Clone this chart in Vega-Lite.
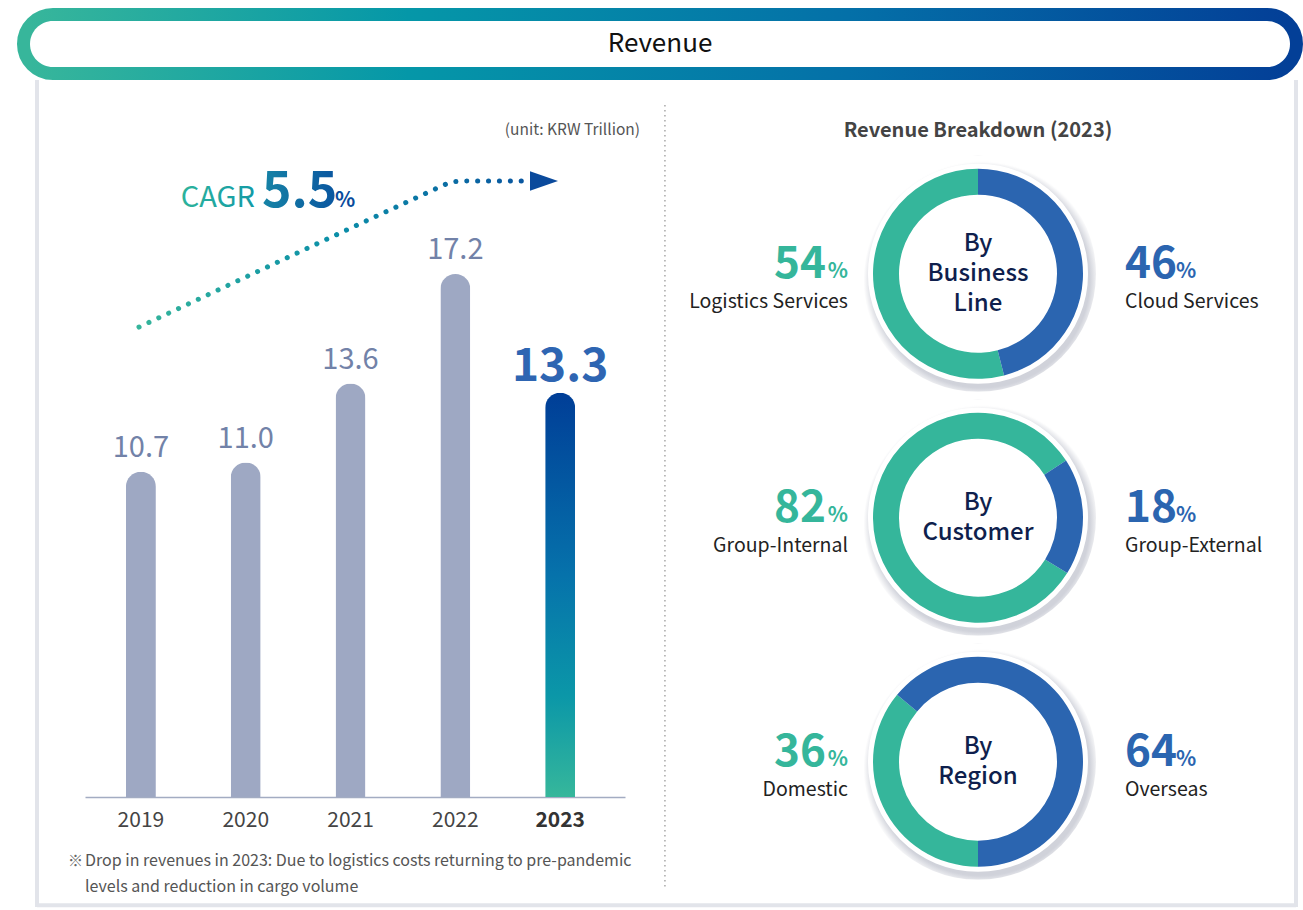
{
  "$schema": "https://vega.github.io/schema/vega-lite/v6.json",
  "padding": {"left": 17, "top": 8, "right": 0, "bottom": 0},
  "background": "white",
  "config": {
    "view": {"stroke": null},
    "font": "Noto Sans CJK KR",
    "text": {"font": "Noto Sans CJK KR"}
  },
  "datasets": {
    "revenue": [
      {"year": "2019", "revenue": 10.7},
      {"year": "2020", "revenue": 11.0},
      {"year": "2021", "revenue": 13.6},
      {"year": "2022", "revenue": 17.2},
      {"year": "2023", "revenue": 13.3}
    ],
    "breakdown": [
      {"breakdown": "By Business Line", "segment": "Logistics Services", "share": 54},
      {"breakdown": "By Business Line", "segment": "Cloud Services", "share": 46},
      {"breakdown": "By Customer", "segment": "Group-Internal", "share": 82},
      {"breakdown": "By Customer", "segment": "Group-External", "share": 18},
      {"breakdown": "By Region", "segment": "Domestic", "share": 36},
      {"breakdown": "By Region", "segment": "Overseas", "share": 64}
    ],
    "trend": [
      {"t": 2018.982, "level": 15.457},
      {"t": 2021.663, "level": 19.767},
      {"t": 2021.797, "level": 19.98},
      {"t": 2021.902, "level": 20.145},
      {"t": 2022.007, "level": 20.244},
      {"t": 2022.14, "level": 20.26},
      {"t": 2022.713, "level": 20.26}
    ],
    "arrowhead": [{"t": 2022.846, "level": 20.26}],
    "notes": [
      {
        "unit": "(unit: KRW Trillion)",
        "cagr_label": "CAGR",
        "cagr": "5.5",
        "pct": "%",
        "mark": "※",
        "footnote": "Drop in revenues in 2023: Due to logistics costs returning to pre-pandemic\nlevels and reduction in cargo volume"
      }
    ]
  },
  "bounds": "flush",
  "spacing": 0,
  "vconcat": [
    {
      "width": 1260,
      "height": 46,
      "data": {"values": [{"title": "Revenue"}]},
      "layer": [
        {
          "mark": {
            "type": "rect",
            "cornerRadius": 23,
            "fill": "white",
            "strokeWidth": 26,
            "stroke": {
              "gradient": "linear", "x1": 0, "y1": 0, "x2": 1, "y2": 0,
              "stops": [
                {"offset": 0, "color": "#37b69b"},
                {"offset": 0.3, "color": "#0597a8"},
                {"offset": 0.65, "color": "#0470a8"},
                {"offset": 1, "color": "#033f97"}
              ]
            }
          },
          "encoding": {}
        },
        {"mark": {"type": "rect", "cornerRadius": 23, "fill": "white"}, "encoding": {}},
        {
          "mark": {"type": "text", "fontSize": 26, "color": "#111"},
          "encoding": {"text": {"field": "title"}}
        }
      ]
    },
    {
      "spacing": 0,
      "bounds": "flush",
      "hconcat": [
        {
          "width": 635,
          "height": 841,
          "resolve": {"scale": {"x": "independent"}},
          "layer": [
            {
              "data": {"name": "revenue"},
              "encoding": {
                "x": {
                  "field": "year", "type": "ordinal",
                  "scale": {"type": "band", "range": [55, 595], "paddingInner": 0, "paddingOuter": 0.076, "align": 0.22},
                  "axis": {
                    "title": null, "orient": "bottom", "offset": -111, "ticks": false,
                    "domainColor": "#a3acc2", "domainWidth": 1.5, "labelAngle": 0,
                    "labelFontSize": 21, "labelPadding": 12,
                    "labelColor": {"condition": {"test": "datum.value === '2023'", "value": "#333"}, "value": "#444"},
                    "labelFontWeight": {"condition": {"test": "datum.value === '2023'", "value": "bold"}, "value": "normal"},
                    "grid": false
                  }
                },
                "y": {
                  "field": "revenue", "type": "quantitative",
                  "scale": {"domain": [-3.65, 24.01], "nice": false, "zero": false},
                  "axis": null
                }
              },
              "layer": [
                {
                  "transform": [{"filter": "datum.year != '2023'"}],
                  "mark": {"type": "bar", "size": 30, "cornerRadiusTopLeft": 15, "cornerRadiusTopRight": 15, "color": "#9ea8c3"}
                },
                {
                  "transform": [{"filter": "datum.year == '2023'"}],
                  "mark": {
                    "type": "bar", "size": 30, "cornerRadiusTopLeft": 15, "cornerRadiusTopRight": 15,
                    "color": {
                      "gradient": "linear", "x1": 0, "y1": 0, "x2": 0, "y2": 1,
                      "stops": [
                        {"offset": 0, "color": "#003e97"},
                        {"offset": 0.45, "color": "#0672ab"},
                        {"offset": 0.75, "color": "#0b97a8"},
                        {"offset": 1, "color": "#36b79b"}
                      ]
                    }
                  }
                },
                {
                  "transform": [{"filter": "datum.year != '2023'"}],
                  "mark": {"type": "text", "fontSize": 29, "color": "#7282a8", "baseline": "alphabetic", "dy": -15},
                  "encoding": {"text": {"field": "revenue", "type": "quantitative", "format": ".1f"}}
                },
                {
                  "transform": [{"filter": "datum.year == '2023'"}],
                  "mark": {"type": "text", "fontSize": 46, "fontWeight": "bold", "color": "#2e65b2", "baseline": "alphabetic", "dy": -12},
                  "encoding": {"text": {"field": "revenue", "type": "quantitative", "format": ".1f"}}
                }
              ]
            },
            {
              "layer": [
                {
                  "data": {"name": "notes"},
                  "mark": {"type": "rule", "color": "#e2e4ea", "strokeWidth": 4},
                  "encoding": {
                    "x": {"datum": 2018.009, "type": "quantitative", "scale": {"domain": [2017.942, 2024.0006], "nice": false, "zero": false}, "axis": null},
                    "y": {"datum": 23.58, "type": "quantitative", "scale": {"domain": [-3.65, 24.01], "nice": false, "zero": false}, "axis": null},
                    "y2": {"datum": -3.62}
                  }
                },
                {
                  "data": {"name": "notes"},
                  "mark": {"type": "rule", "color": "#e2e4ea", "strokeWidth": 4},
                  "encoding": {
                    "x": {"datum": 2030.021, "type": "quantitative", "axis": null},
                    "y": {"datum": 23.58, "type": "quantitative", "axis": null},
                    "y2": {"datum": -3.62}
                  }
                },
                {
                  "data": {"name": "notes"},
                  "mark": {"type": "rule", "color": "#e2e4ea", "strokeWidth": 4},
                  "encoding": {
                    "x": {"datum": 2018.009, "type": "quantitative", "axis": null},
                    "x2": {"datum": 2030.021},
                    "y": {"datum": -3.556, "type": "quantitative", "axis": null}
                  }
                },
                {
                  "data": {"name": "notes"},
                  "mark": {"type": "rule", "color": "#a8a8a8", "strokeWidth": 1.5, "strokeDash": [1.5, 3.5]},
                  "encoding": {
                    "x": {"datum": 2024.0, "type": "quantitative", "axis": null},
                    "y": {"datum": 22.76, "type": "quantitative", "axis": null},
                    "y2": {"datum": -2.964}
                  }
                },
                {
                  "data": {"name": "trend"},
                  "mark": {
                    "type": "line", "interpolate": "monotone", "strokeDash": [0.1, 10.8], "strokeCap": "round", "strokeWidth": 5,
                    "stroke": {
                      "gradient": "linear", "x1": 0, "y1": 0, "x2": 1, "y2": 0,
                      "stops": [
                        {"offset": 0, "color": "#35b59b"},
                        {"offset": 0.5, "color": "#0b8fa8"},
                        {"offset": 1, "color": "#0a55a0"}
                      ]
                    }
                  },
                  "encoding": {
                    "x": {"field": "t", "type": "quantitative", "axis": null},
                    "y": {"field": "level", "type": "quantitative", "axis": null}
                  }
                },
                {
                  "data": {"name": "arrowhead"},
                  "mark": {"type": "point", "shape": "M-1,-0.7L1,0L-1,0.7Z", "size": 784, "filled": true, "color": "#0a4a9c", "opacity": 1},
                  "encoding": {
                    "x": {"field": "t", "type": "quantitative", "axis": null},
                    "y": {"field": "level", "type": "quantitative", "axis": null}
                  }
                },
                {
                  "data": {"name": "notes"},
                  "mark": {"type": "text", "align": "right", "baseline": "alphabetic", "fontSize": 15.5, "color": "#555"},
                  "encoding": {
                    "x": {"datum": 2023.762, "type": "quantitative", "axis": null},
                    "y": {"datum": 21.773, "type": "quantitative", "axis": null},
                    "text": {"field": "unit"}
                  }
                },
                {
                  "data": {"name": "notes"},
                  "mark": {
                    "type": "text", "align": "right", "baseline": "alphabetic", "fontSize": 29,
                    "fill": {
                      "gradient": "linear", "x1": 0, "y1": 0, "x2": 1, "y2": 0,
                      "stops": [{"offset": 0, "color": "#2db39b"}, {"offset": 1, "color": "#139aa6"}]
                    }
                  },
                  "encoding": {
                    "x": {"datum": 2020.089, "type": "quantitative", "axis": null},
                    "y": {"datum": 19.42, "type": "quantitative", "axis": null},
                    "text": {"field": "cagr_label"}
                  }
                },
                {
                  "data": {"name": "notes"},
                  "mark": {
                    "type": "text", "align": "left", "baseline": "alphabetic", "fontSize": 50, "fontWeight": "bold",
                    "fill": {
                      "gradient": "linear", "x1": 0, "y1": 0, "x2": 1, "y2": 0,
                      "stops": [{"offset": 0, "color": "#1684a6"}, {"offset": 1, "color": "#0a55a0"}]
                    }
                  },
                  "encoding": {
                    "x": {"datum": 2020.156, "type": "quantitative", "axis": null},
                    "y": {"datum": 19.42, "type": "quantitative", "axis": null},
                    "text": {"field": "cagr"}
                  }
                },
                {
                  "data": {"name": "notes"},
                  "mark": {"type": "text", "align": "left", "baseline": "alphabetic", "fontSize": 21, "fontWeight": "bold", "color": "#0a4c9c"},
                  "encoding": {
                    "x": {"datum": 2020.852, "type": "quantitative", "axis": null},
                    "y": {"datum": 19.42, "type": "quantitative", "axis": null},
                    "text": {"field": "pct"}
                  }
                },
                {
                  "data": {"name": "notes"},
                  "mark": {"type": "text", "align": "left", "baseline": "alphabetic", "fontSize": 15, "color": "#666"},
                  "encoding": {
                    "x": {"datum": 2018.305, "type": "quantitative", "axis": null},
                    "y": {"datum": -2.273, "type": "quantitative", "axis": null},
                    "text": {"field": "mark"}
                  }
                },
                {
                  "data": {"name": "notes"},
                  "mark": {"type": "text", "align": "left", "baseline": "alphabetic", "fontSize": 16, "color": "#555", "lineBreak": "\n", "lineHeight": 26},
                  "encoding": {
                    "x": {"datum": 2018.467, "type": "quantitative", "axis": null},
                    "y": {"datum": -2.273, "type": "quantitative", "axis": null},
                    "text": {"field": "footnote"}
                  }
                }
              ]
            }
          ]
        },
        {
          "spacing": 0,
          "bounds": "flush",
          "vconcat": [
            {
              "width": 626,
              "height": 84.25,
              "data": {"values": [{"label": "Revenue Breakdown (2023)"}]},
              "mark": {"type": "text", "fontSize": 20, "fontWeight": "bold", "color": "#444", "dy": 22},
              "encoding": {"text": {"field": "label"}}
            },
            {
              "width": 626,
              "height": 243.5,
              "data": {"name": "breakdown"},
              "transform": [
                {"filter": "datum.breakdown == 'By Business Line'"},
                {"window": [{"op": "row_number", "as": "idx"}]}
              ],
              "layer": [
                {
                  "transform": [{"filter": "datum.idx == 1"}],
                  "mark": {
                    "type": "arc", "outerRadius": 118,
                    "fill": {"gradient": "radial", "x1": 0.5, "y1": 0.5, "r1": 0, "x2": 0.515, "y2": 0.525, "r2": 0.5,
                      "stops": [{"offset": 0, "color": "#d0d2da"}, {"offset": 0.92, "color": "#d0d2da"}, {"offset": 1, "color": "#ffffff"}]}
                  },
                  "encoding": {}
                },
                {
                  "transform": [{"filter": "datum.idx == 1"}],
                  "mark": {"type": "arc", "outerRadius": 110, "fill": "white"},
                  "encoding": {}
                },
                {
                  "mark": {"type": "arc", "innerRadius": 79, "outerRadius": 105},
                  "encoding": {
                    "theta": {"field": "share", "type": "quantitative", "stack": true, "scale": {"range": [0, 6.2832]}},
                    "order": {"field": "idx", "sort": "descending"},
                    "color": {"field": "idx", "type": "nominal", "scale": {"domain": [1, 2], "range": ["#35b69b", "#2b65b0"]}, "legend": null}
                  }
                },
                {
                  "transform": [{"filter": "datum.idx == 1"}],
                  "mark": {"type": "text", "fontSize": 24, "fontWeight": 500, "color": "#0f1f4d", "lineBreak": " ", "lineHeight": 30,
                    "dy": {"expr": "-(length(split(datum.breakdown, ' ')) - 1) * 15"}},
                  "encoding": {"text": {"field": "breakdown"}}
                },
                {
                  "mark": {"type": "text", "fontSize": 44, "fontWeight": "bold", "baseline": "alphabetic", "dy": 4,
                    "align": {"expr": "datum.idx == 1 ? 'right' : 'left'"}, "dx": {"expr": "datum.idx == 1 ? -22 : 0"}},
                  "encoding": {
                    "x": {"field": "idx", "type": "ordinal", "scale": {"type": "point", "domain": [1, 2], "range": [183, 460], "padding": 0}, "axis": null},
                    "text": {"field": "share"},
                    "color": {"field": "idx", "type": "nominal", "legend": null}
                  }
                },
                {
                  "mark": {"type": "text", "fontSize": 21, "fontWeight": "bold", "baseline": "alphabetic", "dy": 4,
                    "align": {"expr": "datum.idx == 1 ? 'right' : 'left'"}, "dx": {"expr": "datum.idx == 1 ? 0 : 51"}},
                  "encoding": {
                    "x": {"field": "idx", "type": "ordinal", "axis": null},
                    "text": {"value": "%"},
                    "color": {"field": "idx", "type": "nominal", "legend": null}
                  }
                },
                {
                  "mark": {"type": "text", "fontSize": 19.5, "color": "#222", "baseline": "alphabetic", "dy": 34,
                    "align": {"expr": "datum.idx == 1 ? 'right' : 'left'"}},
                  "encoding": {
                    "x": {"field": "idx", "type": "ordinal", "axis": null},
                    "text": {"field": "segment"}
                  }
                }
              ]
            },
            {
              "width": 626,
              "height": 243.5,
              "data": {"name": "breakdown"},
              "transform": [
                {"filter": "datum.breakdown == 'By Customer'"},
                {"window": [{"op": "row_number", "as": "idx"}]}
              ],
              "layer": [
                {
                  "transform": [{"filter": "datum.idx == 1"}],
                  "mark": {
                    "type": "arc", "outerRadius": 118,
                    "fill": {"gradient": "radial", "x1": 0.5, "y1": 0.5, "r1": 0, "x2": 0.515, "y2": 0.525, "r2": 0.5,
                      "stops": [{"offset": 0, "color": "#d0d2da"}, {"offset": 0.92, "color": "#d0d2da"}, {"offset": 1, "color": "#ffffff"}]}
                  },
                  "encoding": {}
                },
                {
                  "transform": [{"filter": "datum.idx == 1"}],
                  "mark": {"type": "arc", "outerRadius": 110, "fill": "white"},
                  "encoding": {}
                },
                {
                  "mark": {"type": "arc", "innerRadius": 79, "outerRadius": 105},
                  "encoding": {
                    "theta": {"field": "share", "type": "quantitative", "stack": true, "scale": {"range": [0.995, 7.2782]}},
                    "order": {"field": "idx", "sort": "descending"},
                    "color": {"field": "idx", "type": "nominal", "scale": {"domain": [1, 2], "range": ["#35b69b", "#2b65b0"]}, "legend": null}
                  }
                },
                {
                  "transform": [{"filter": "datum.idx == 1"}],
                  "mark": {"type": "text", "fontSize": 24, "fontWeight": 500, "color": "#0f1f4d", "lineBreak": " ", "lineHeight": 30,
                    "dy": {"expr": "-(length(split(datum.breakdown, ' ')) - 1) * 15"}},
                  "encoding": {"text": {"field": "breakdown"}}
                },
                {
                  "mark": {"type": "text", "fontSize": 44, "fontWeight": "bold", "baseline": "alphabetic", "dy": 4,
                    "align": {"expr": "datum.idx == 1 ? 'right' : 'left'"}, "dx": {"expr": "datum.idx == 1 ? -22 : 0"}},
                  "encoding": {
                    "x": {"field": "idx", "type": "ordinal", "scale": {"type": "point", "domain": [1, 2], "range": [183, 460], "padding": 0}, "axis": null},
                    "text": {"field": "share"},
                    "color": {"field": "idx", "type": "nominal", "legend": null}
                  }
                },
                {
                  "mark": {"type": "text", "fontSize": 21, "fontWeight": "bold", "baseline": "alphabetic", "dy": 4,
                    "align": {"expr": "datum.idx == 1 ? 'right' : 'left'"}, "dx": {"expr": "datum.idx == 1 ? 0 : 51"}},
                  "encoding": {
                    "x": {"field": "idx", "type": "ordinal", "axis": null},
                    "text": {"value": "%"},
                    "color": {"field": "idx", "type": "nominal", "legend": null}
                  }
                },
                {
                  "mark": {"type": "text", "fontSize": 19.5, "color": "#222", "baseline": "alphabetic", "dy": 34,
                    "align": {"expr": "datum.idx == 1 ? 'right' : 'left'"}},
                  "encoding": {
                    "x": {"field": "idx", "type": "ordinal", "axis": null},
                    "text": {"field": "segment"}
                  }
                }
              ]
            },
            {
              "width": 626,
              "height": 243.5,
              "data": {"name": "breakdown"},
              "transform": [
                {"filter": "datum.breakdown == 'By Region'"},
                {"window": [{"op": "row_number", "as": "idx"}]}
              ],
              "layer": [
                {
                  "transform": [{"filter": "datum.idx == 1"}],
                  "mark": {
                    "type": "arc", "outerRadius": 118,
                    "fill": {"gradient": "radial", "x1": 0.5, "y1": 0.5, "r1": 0, "x2": 0.515, "y2": 0.525, "r2": 0.5,
                      "stops": [{"offset": 0, "color": "#d0d2da"}, {"offset": 0.92, "color": "#d0d2da"}, {"offset": 1, "color": "#ffffff"}]}
                  },
                  "encoding": {}
                },
                {
                  "transform": [{"filter": "datum.idx == 1"}],
                  "mark": {"type": "arc", "outerRadius": 110, "fill": "white"},
                  "encoding": {}
                },
                {
                  "mark": {"type": "arc", "innerRadius": 79, "outerRadius": 105},
                  "encoding": {
                    "theta": {"field": "share", "type": "quantitative", "stack": true, "scale": {"range": [3.1416, 9.4248]}},
                    "order": {"field": "idx", "sort": "ascending"},
                    "color": {"field": "idx", "type": "nominal", "scale": {"domain": [1, 2], "range": ["#35b69b", "#2b65b0"]}, "legend": null}
                  }
                },
                {
                  "transform": [{"filter": "datum.idx == 1"}],
                  "mark": {"type": "text", "fontSize": 24, "fontWeight": 500, "color": "#0f1f4d", "lineBreak": " ", "lineHeight": 30,
                    "dy": {"expr": "-(length(split(datum.breakdown, ' ')) - 1) * 15"}},
                  "encoding": {"text": {"field": "breakdown"}}
                },
                {
                  "mark": {"type": "text", "fontSize": 44, "fontWeight": "bold", "baseline": "alphabetic", "dy": 4,
                    "align": {"expr": "datum.idx == 1 ? 'right' : 'left'"}, "dx": {"expr": "datum.idx == 1 ? -22 : 0"}},
                  "encoding": {
                    "x": {"field": "idx", "type": "ordinal", "scale": {"type": "point", "domain": [1, 2], "range": [183, 460], "padding": 0}, "axis": null},
                    "text": {"field": "share"},
                    "color": {"field": "idx", "type": "nominal", "legend": null}
                  }
                },
                {
                  "mark": {"type": "text", "fontSize": 21, "fontWeight": "bold", "baseline": "alphabetic", "dy": 4,
                    "align": {"expr": "datum.idx == 1 ? 'right' : 'left'"}, "dx": {"expr": "datum.idx == 1 ? 0 : 51"}},
                  "encoding": {
                    "x": {"field": "idx", "type": "ordinal", "axis": null},
                    "text": {"value": "%"},
                    "color": {"field": "idx", "type": "nominal", "legend": null}
                  }
                },
                {
                  "mark": {"type": "text", "fontSize": 19.5, "color": "#222", "baseline": "alphabetic", "dy": 34,
                    "align": {"expr": "datum.idx == 1 ? 'right' : 'left'"}},
                  "encoding": {
                    "x": {"field": "idx", "type": "ordinal", "axis": null},
                    "text": {"field": "segment"}
                  }
                }
              ]
            }
          ]
        }
      ]
    }
  ]
}
